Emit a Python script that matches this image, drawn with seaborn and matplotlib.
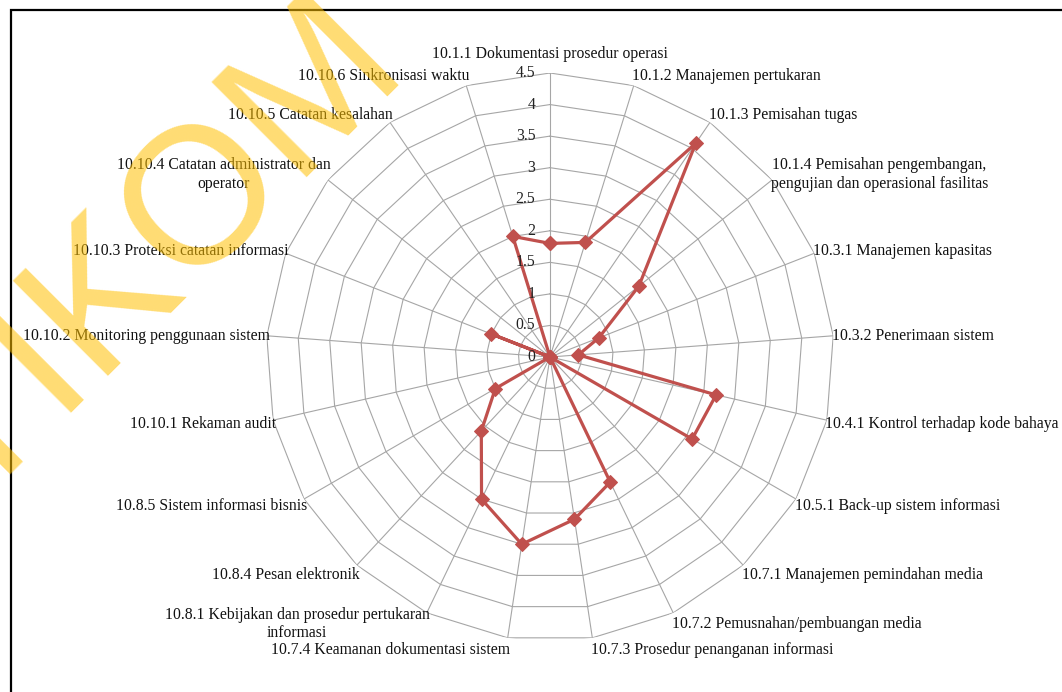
import numpy as np
import matplotlib
matplotlib.use("Agg")
import matplotlib.pyplot as plt
from matplotlib.patches import Rectangle
import seaborn as sns

categories = [
    "10.1.1 Dokumentasi prosedur operasi",
    "10.1.2 Manajemen pertukaran",
    "10.1.3 Pemisahan tugas",
    "10.1.4 Pemisahan pengembangan,\npengujian dan operasional fasilitas",
    "10.3.1 Manajemen kapasitas",
    "10.3.2 Penerimaan sistem",
    "10.4.1 Kontrol terhadap kode bahaya",
    "10.5.1 Back-up sistem informasi",
    "10.7.1 Manajemen pemindahan media",
    "10.7.2 Pemusnahan/pembuangan media",
    "10.7.3 Prosedur penanganan informasi",
    "10.7.4 Keamanan dokumentasi sistem",
    "10.8.1 Kebijakan dan prosedur pertukaran\ninformasi",
    "10.8.4 Pesan elektronik",
    "10.8.5 Sistem informasi bisnis",
    "10.10.1 Rekaman audit",
    "10.10.2 Monitoring penggunaan sistem",
    "10.10.3 Proteksi catatan informasi",
    "10.10.4 Catatan administrator dan\noperator",
    "10.10.5 Catatan kesalahan",
    "10.10.6 Sinkronisasi waktu",
]
values = [1.8, 1.9, 4.1, 1.8, 0.83, 0.45, 2.7, 2.6, 0.0, 2.2, 2.6,
          3.0, 2.5, 1.6, 1.0, 0.0, 0.0, 1.0, 0.0, 0.0, 2.0]
radial_ticks = [0, 0.5, 1, 1.5, 2, 2.5, 3, 3.5, 4, 4.5]
radial_labels = ["0", "0.5", "1", "1.5", "2", "2.5", "3", "3.5", "4", "4.5"]
watermark = "STIKOM"

sns.set_theme(style="white")
plt.rcParams["font.family"] = ["Liberation Serif", "DejaVu Serif"]

W, H = 1062, 692
fig = plt.figure(figsize=(W / 100, H / 100), dpi=100)
cx, cy, R = 550, 357, 284
ax = fig.add_axes([(cx - R) / W, (H - cy - R) / H, 2 * R / W, 2 * R / H],
                  projection="polar")
ax.set_theta_zero_location("N")
ax.set_theta_direction(-1)
ax.grid(False)
ax.spines["polar"].set_visible(False)
ax.set_xticks([])
ax.set_yticks([])

n = len(categories)
theta = np.arange(n) * 2 * np.pi / n
theta_closed = np.append(theta, 2 * np.pi)

grid_color = "#A6A6A6"
rmax = radial_ticks[-1]
for r in radial_ticks[1:]:
    ax.plot(theta_closed, [r] * (n + 1), color=grid_color, lw=0.8, zorder=1)
for t in theta:
    ax.plot([t, t], [0, rmax], color=grid_color, lw=0.8, zorder=1)

vals_closed = np.append(values, values[0])
sns.lineplot(x=theta_closed, y=vals_closed, ax=ax, sort=False,
             color="#C0504D", lw=2.3, marker="D", markersize=7,
             markeredgecolor="#C0504D", zorder=3)
ax.set_xlabel("")
ax.set_ylabel("")
ax.set_ylim(0, rmax)
ax.set_xticks([])
ax.set_yticks([])

fs = 11.3
for r, lab in zip(radial_ticks, radial_labels):
    ax.annotate(lab, xy=(0, r), xytext=(-10.5, 0), textcoords="offset points",
                ha="right", va="center", fontsize=fs, color="#222222")

for t, lab in zip(theta, categories):
    s, c = np.sin(t), np.cos(t)
    if s > 0.05:
        ha, dx = "left", -1.0
    elif s < -0.05:
        ha, dx = "right", 2.0
    else:
        ha, dx = "center", 0.0
    if abs(s) <= 0.05 and c > 0:
        va, dy = "bottom", 8.0
    else:
        va, dy = "center", 8.0 * c - 1.0
    ax.annotate(lab, xy=(t, rmax), xytext=(dx, dy), textcoords="offset points",
                ha=ha, va=va, fontsize=fs, color="#111111",
                multialignment="center", annotation_clip=False)

fig.add_artist(Rectangle((11 / W, -0.05), 1.1, (1 - 10 / H) + 0.05,
                         transform=fig.transFigure, fill=False,
                         ec="black", lw=1.6, zorder=5))

fig.text(-119 / W, 1 - 595 / H, watermark, rotation=45, rotation_mode="anchor",
         ha="left", va="baseline", fontsize=140, color="#FFC000", alpha=0.55,
         family="Liberation Sans", zorder=10)

fig.savefig("out.png", dpi=100, facecolor="white")
